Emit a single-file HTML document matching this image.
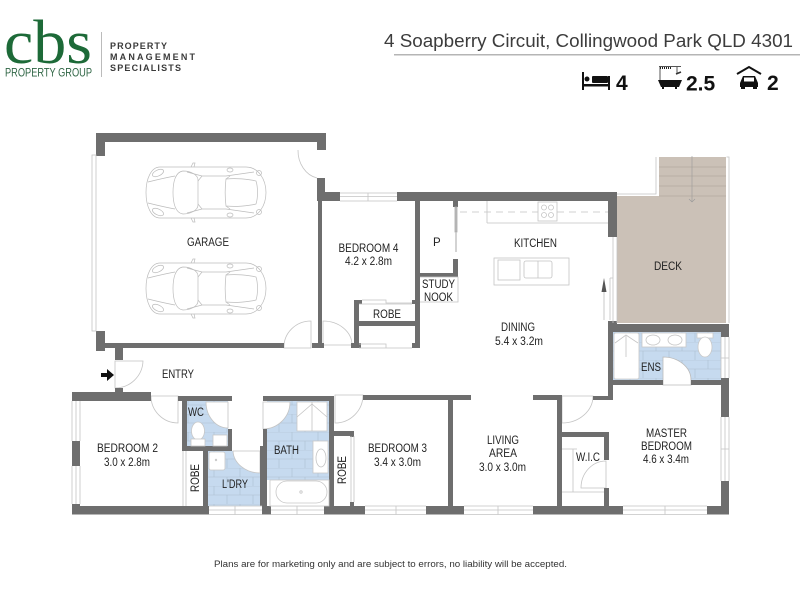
<!DOCTYPE html>
<html><head><meta charset="utf-8"><style>
html,body{margin:0;padding:0;background:#fff}
svg{display:block;filter:blur(.3px)}
text{font-family:"Liberation Sans",sans-serif;fill:#222;font-size:11.5px}
.w{fill:#6e6e6e}
.t{fill:none;stroke:#c4c4c4;stroke-width:.8}
.d{fill:#fff;stroke:#c4c4c4;stroke-width:.8}
.c{fill:none;stroke:#bcbcbc;stroke-width:.7}
.f{fill:#fff;stroke:#c8c8c8;stroke-width:.8}
</style></head><body>
<svg width="800" height="600" viewBox="0 0 800 600" xmlns="http://www.w3.org/2000/svg">
<defs>
<pattern id="tile" width="26" height="18" patternUnits="userSpaceOnUse">
<rect width="26" height="18" fill="#c6daef"/>
<path d="M0 0H26M0 9H26M6 0V9M19 9V18" stroke="#aebfd0" stroke-width=".6" fill="none"/>
</pattern>
<g id="car">
<path class="c" d="M14 0H100C112 0 120 12 120 25.500C120 39 112 51 100 51H14C5 51 0 39 0 25.500C0 12 5 0 14 0Z"/>
<path class="c" d="M37 4C29 5 27 16 27 25.500C27 35 29 46 37 47C45 47 52 43 52 38V13C52 8 45 4 37 4Z"/>
<path class="c" d="M80 12C90 11 102 12 110 14C112 20 112 31 110 37C102 39 90 40 80 39C79 31 79 20 80 12Z"/>
<path class="c" d="M41 5L56 9H80L108 5M41 46L56 42H80L108 46M56 9L52 14M56 42L52 37M80 12L84 9M80 39L84 42M2 15C10 13 18 11 29 9M2 36C10 38 18 40 29 42"/>
<ellipse class="c" cx="12" cy="6" rx="6" ry="3" transform="rotate(-25 12 6)"/>
<ellipse class="c" cx="12" cy="45" rx="6" ry="3" transform="rotate(25 12 45)"/>
<path class="c" d="M45 0L47 -4L49 -4L48 0M45 51L47 55L49 55L48 51"/>
<circle class="c" cx="113" cy="6" r="2.500"/><circle class="c" cx="113" cy="45" r="2.500"/>
<ellipse class="c" cx="84" cy="3" rx="3" ry="2"/><ellipse class="c" cx="84" cy="48" rx="3" ry="2"/>
</g>
</defs>

<!-- Logo -->
<text x="4" y="63" textLength="88" lengthAdjust="spacingAndGlyphs" style="font-family:'Liberation Serif',serif;font-size:62px;fill:#1d6a38">cbs</text>
<text x="5" y="76.500" textLength="87" lengthAdjust="spacingAndGlyphs" style="font-size:11.500px;fill:#2e6544">PROPERTY GROUP</text>
<rect x="101" y="32" width="1" height="45" fill="#bbb"/>
<text x="110" y="49" textLength="57" style="font-size:9px;font-weight:bold;fill:#3a3a3a">PROPERTY</text>
<text x="110" y="60" textLength="85" style="font-size:9px;font-weight:bold;fill:#3a3a3a">MANAGEMENT</text>
<text x="110" y="71" textLength="71" style="font-size:9px;font-weight:bold;fill:#3a3a3a">SPECIALISTS</text>

<!-- Header -->
<text x="384" y="47" textLength="409" lengthAdjust="spacingAndGlyphs" style="font-size:18.500px;fill:#3c3c3c">4 Soapberry Circuit, Collingwood Park QLD 4301</text>
<rect x="394" y="54" width="406" height="1.500" fill="#b5b5b5"/>

<!-- Icons -->
<g fill="#111">
<rect x="582" y="72" width="2" height="18"/><rect x="608" y="76" width="2" height="14"/>
<rect x="582" y="84" width="28" height="2.500"/><circle cx="587" cy="79" r="2.500"/><rect x="592" y="76" width="16" height="7" rx="1"/>
</g>
<text x="616" y="90" style="font-size:21px;font-weight:bold;fill:#111">4</text>
<g>
<path d="M659 66.500H681M660 67V80M677 67V73" stroke="#555" stroke-width="1" fill="none"/>
<path d="M660 68H672" stroke="#222" stroke-width="2" stroke-dasharray="1 1"/>
<path d="M676 74L681 72" stroke="#333" stroke-width="1.500"/>
<path d="M658 80H682L679 87H661Z" fill="#111"/><rect x="662" y="87" width="2" height="2" fill="#111"/><rect x="675" y="87" width="2" height="2" fill="#111"/>
</g>
<text x="686" y="90.500" style="font-size:21px;font-weight:bold;fill:#111">2.5</text>
<path d="M737 74L749 67L761 74" fill="none" stroke="#111" stroke-width="2"/>
<path d="M740 83L743 76H755L758 83V87H740Z" fill="#111"/><rect x="741" y="86" width="4" height="3" fill="#111"/><rect x="753" y="86" width="4" height="3" fill="#111"/>
<rect x="744" y="77.500" width="10" height="4" fill="#fff"/>
<text x="767" y="90" style="font-size:21px;font-weight:bold;fill:#111">2</text>

<!-- Deck + stairs -->
<rect x="617" y="196" width="109" height="127" fill="#cbc1b7"/>
<rect x="659" y="157" width="67" height="39" fill="#cbc1b7"/>
<path d="M659 167H726M659 176H726M659 186H726M659 196H726" stroke="#b5ab9f" stroke-width=".7"/>
<path d="M692 156V202M689 199L692 202L695 199" stroke="#999" stroke-width=".6" fill="none"/>
<path class="t" d="M656 157V194H617M726.500 157H729V323"/>

<!-- Wet areas -->
<rect x="187" y="401" width="41" height="45" fill="url(#tile)"/>
<rect x="208" y="451" width="54" height="55" fill="url(#tile)"/>
<rect x="267" y="401" width="62" height="79" fill="url(#tile)"/>
<rect x="613" y="332" width="108" height="48" fill="url(#tile)"/>

<!-- Door swings -->
<path class="d" d="M143 361A28 28 0 0 1 115 388V361Z"/>
<path class="d" d="M151 396A27 27 0 0 0 178 423V396Z"/>
<path class="d" d="M206 402A22 26 0 0 0 228 428V402Z"/>
<path class="d" d="M233 451A27 23 0 0 0 260 473V451H233Z"/>
<path class="d" d="M263 429A27 27 0 0 0 290 402H263Z"/>
<path class="d" d="M335 423A28 28 0 0 0 363 395H335Z"/>
<path class="d" d="M562 423A31 27 0 0 0 593 396H562Z"/>
<path class="d" d="M663 357A28 23 0 0 1 691 380V385H663Z" style="stroke:#bbb"/>
<path class="d" d="M581 488A25 27 0 0 1 606 461V488Z"/>
<path class="d" d="M298 150A24 28 0 0 0 317 178" style="fill:none"/>
<path class="d" d="M284 348A27 26 0 0 1 311 321V348Z"/>
<path class="d" d="M323 321A29 24 0 0 1 352 345H323Z"/>

<!-- Walls -->
<g class="w">
<rect x="96" y="133" width="230" height="9"/>
<rect x="96" y="133" width="9" height="23"/>
<rect x="317" y="133" width="9" height="17"/>
<rect x="317" y="178" width="8" height="23"/>
<rect x="318" y="178" width="4" height="170"/>
<rect x="96" y="331" width="9" height="20"/>
<rect x="96" y="343" width="188" height="5"/>
<rect x="312" y="343" width="12" height="5"/>
<rect x="115" y="348" width="8" height="12"/>
<rect x="317" y="192" width="23" height="9"/>
<rect x="397" y="192" width="220" height="9"/>
<rect x="608" y="192" width="9" height="45"/>
<rect x="415" y="201" width="5" height="147"/>
<rect x="354" y="300" width="5" height="48"/>
<rect x="351" y="343" width="10" height="5"/>
<rect x="412" y="343" width="8" height="5"/>
<rect x="354" y="321" width="66" height="5"/>
<rect x="354" y="300" width="8" height="4"/>
<rect x="412" y="300" width="4" height="4"/>
<rect x="453" y="201" width="5" height="6"/>
<rect x="453" y="259" width="5" height="18"/>
<rect x="415" y="273" width="43" height="4"/>
<rect x="608" y="321" width="9" height="6"/>
<rect x="608" y="324" width="121" height="8"/>
<rect x="608" y="324" width="5" height="76"/>
<rect x="721" y="324" width="8" height="13"/>
<rect x="613" y="380" width="50" height="5"/>
<rect x="691" y="380" width="30" height="5"/>
<rect x="721" y="378" width="8" height="39"/>
<rect x="721" y="481" width="8" height="33"/>
<rect x="72" y="392" width="79" height="9"/>
<rect x="115" y="388" width="8" height="4"/>
<rect x="72" y="441" width="8" height="25"/>
<rect x="72" y="504" width="8" height="10"/>
<rect x="178" y="396" width="54" height="5"/>
<rect x="182" y="396" width="5" height="55"/>
<rect x="182" y="446" width="50" height="5"/>
<rect x="228" y="429" width="4" height="22"/>
<rect x="203" y="446" width="5" height="60"/>
<rect x="260" y="446" width="3" height="60"/>
<rect x="263" y="396" width="71" height="5"/>
<rect x="263" y="429" width="4" height="80"/>
<rect x="329" y="396" width="5" height="110"/>
<rect x="334" y="431" width="20" height="5"/>
<rect x="350" y="431" width="4" height="6"/>
<rect x="350" y="502" width="4" height="5"/>
<rect x="363" y="395" width="108" height="5"/>
<rect x="448" y="400" width="5" height="106"/>
<rect x="533" y="395" width="29" height="5"/>
<rect x="557" y="395" width="5" height="111"/>
<rect x="593" y="396" width="20" height="4"/>
<rect x="562" y="432" width="47" height="5"/>
<rect x="604" y="432" width="5" height="28"/>
<rect x="604" y="488" width="5" height="18"/>
<rect x="72" y="506" width="137" height="8.500"/>
<rect x="262" y="506" width="9" height="8.500"/>
<rect x="324" y="506" width="41" height="8.500"/>
<rect x="426" y="506" width="38" height="8.500"/>
<rect x="533" y="506" width="90" height="8.500"/>
<rect x="707" y="506" width="22" height="8.500"/>
</g>

<!-- Windows & thin lines -->
<g class="t">
<rect x="92" y="155" width="4" height="176"/>
<path d="M340 193H397M340 196.500H397M340 201H397M368 193V201"/>
<path d="M362 300H386V303H412M359 304H412M359 344H386V348H412M359 348H412M386 344V348"/>
<rect x="455" y="207" width="2" height="25" style="fill:#bbb;stroke:#aaa"/>
<path d="M456 232V252" stroke-width="1.500"/>
<path d="M420 277H458V302H420"/>
<path d="M487 223H608M487 201V223"/>
<path d="M460 212H538M557 212H608" stroke-dasharray="7 5"/>
<rect x="538" y="202" width="19" height="19" fill="#fff"/>
<circle cx="544" cy="207.500" r="2.500"/><circle cx="551" cy="207.500" r="2.500"/><circle cx="544" cy="215" r="2.500"/><circle cx="551" cy="215" r="2.500"/>
<rect x="494" y="258" width="75" height="27"/>
<rect x="498" y="260" width="22" height="20"/>
<rect x="524" y="261" width="28" height="17" rx="2"/>
<path d="M538 261V278"/>
<path d="M613 237V323M617 237V323M610 278H613M610 278V320"/>
<path d="M72 401V441M76 401V441M80 401V441M72 466V504M76 466V504M80 466V504"/>
<path d="M186 451V506M183 451V506"/>
<path d="M209 506H262M209 510H262M209 514.500H262M235 506V514.500M271 506H324M271 510H324M271 514.500H324M297 506V514.500"/>
<path d="M351 436V502M354 436V502"/>
<path d="M365 506H426M365 510H426M365 514.500H426M396 506V514.500M464 506H533M464 510H533M464 514.500H533M498 506V514.500"/>
<path d="M623 506H707M623 510H707M623 514.500H707M665 506V514.500"/>
<path d="M721 417V481M725 417V481M729 417V481M721 449H729"/>
<path d="M721 337V378M725 337V378M729 337V378M721 358H729"/>
<path d="M562 449H577M573 449V492M562 492H604"/>
</g>
<path d="M604 320V292" stroke="#bbb" stroke-width=".8"/>
<path d="M601.500 292L604 278L606.500 292Z" fill="#555"/>

<!-- Fixtures -->
<rect class="f" x="297" y="402" width="30" height="29"/>
<path class="t" d="M312 402V431M297 417L312 404L327 417"/>
<rect class="f" x="313" y="441" width="15" height="32"/>
<ellipse class="t" cx="321" cy="458" rx="5" ry="9"/>
<rect class="f" x="270" y="480" width="59" height="26"/>
<rect class="f" x="276" y="481" width="51" height="22" rx="11"/>
<circle class="t" cx="301" cy="492" r="1.200"/>
<rect class="f" x="209" y="452" width="16" height="18" rx="2"/>
<circle class="t" cx="216" cy="460" r=".8"/>
<rect class="f" x="213" y="435" width="14" height="11"/>
<ellipse class="f" cx="198" cy="431" rx="6.500" ry="9"/>
<rect class="f" x="191" y="439" width="14" height="7"/>
<rect x="614" y="333" width="25" height="46" rx="2" class="f"/>
<path class="t" d="M626 336V357M615 343L626 335L638 343"/>
<rect class="f" x="642" y="333" width="44" height="14"/>
<ellipse class="t" cx="653" cy="340" rx="7" ry="5"/><ellipse class="t" cx="675" cy="340" rx="7" ry="5"/>
<rect class="f" x="697" y="333" width="16" height="5"/>
<ellipse class="f" cx="705" cy="347" rx="7" ry="10"/>

<!-- Cars -->
<use href="#car" x="146" y="167"/>
<use href="#car" x="146" y="263"/>

<!-- Entry arrow -->
<path d="M101 373H107V369L114 375L107 381V377H101Z" fill="#111"/>

<!-- Labels -->
<text x="187" y="246" textLength="42" lengthAdjust="spacingAndGlyphs">GARAGE</text>
<text x="338.500" y="252" textLength="60" lengthAdjust="spacingAndGlyphs">BEDROOM 4</text>
<text x="345" y="265" textLength="47" lengthAdjust="spacingAndGlyphs">4.2 x 2.8m</text>
<text x="433" y="246">P</text>
<text x="514" y="247" textLength="43" lengthAdjust="spacingAndGlyphs">KITCHEN</text>
<text x="422" y="288" textLength="33" lengthAdjust="spacingAndGlyphs">STUDY</text>
<text x="424" y="301" textLength="29" lengthAdjust="spacingAndGlyphs">NOOK</text>
<text x="373" y="318" textLength="28" lengthAdjust="spacingAndGlyphs">ROBE</text>
<text x="501" y="331" textLength="34" lengthAdjust="spacingAndGlyphs">DINING</text>
<text x="495" y="345" textLength="48" lengthAdjust="spacingAndGlyphs">5.4 x 3.2m</text>
<text x="654" y="270" textLength="28" lengthAdjust="spacingAndGlyphs">DECK</text>
<text x="641" y="371" textLength="20" lengthAdjust="spacingAndGlyphs">ENS</text>
<text x="162" y="378" textLength="32" lengthAdjust="spacingAndGlyphs">ENTRY</text>
<text x="97" y="452" textLength="61" lengthAdjust="spacingAndGlyphs">BEDROOM 2</text>
<text x="104" y="466" textLength="46" lengthAdjust="spacingAndGlyphs">3.0 x 2.8m</text>
<text x="188" y="416" textLength="16" lengthAdjust="spacingAndGlyphs">WC</text>
<text x="274" y="454" textLength="25" lengthAdjust="spacingAndGlyphs">BATH</text>
<text x="222" y="488" textLength="26" lengthAdjust="spacingAndGlyphs">L'DRY</text>
<text transform="translate(199 492) rotate(-90)" textLength="28" lengthAdjust="spacingAndGlyphs">ROBE</text>
<text transform="translate(346 484) rotate(-90)" textLength="28" lengthAdjust="spacingAndGlyphs">ROBE</text>
<text x="368" y="452" textLength="59" lengthAdjust="spacingAndGlyphs">BEDROOM 3</text>
<text x="374" y="466" textLength="47" lengthAdjust="spacingAndGlyphs">3.4 x 3.0m</text>
<text x="487" y="444" textLength="32" lengthAdjust="spacingAndGlyphs">LIVING</text>
<text x="489" y="457" textLength="28" lengthAdjust="spacingAndGlyphs">AREA</text>
<text x="479" y="471" textLength="47" lengthAdjust="spacingAndGlyphs">3.0 x 3.0m</text>
<text x="576" y="461" textLength="24" lengthAdjust="spacingAndGlyphs">W.I.C</text>
<text x="646" y="437" textLength="41" lengthAdjust="spacingAndGlyphs">MASTER</text>
<text x="641" y="450" textLength="51" lengthAdjust="spacingAndGlyphs">BEDROOM</text>
<text x="643" y="463" textLength="46" lengthAdjust="spacingAndGlyphs">4.6 x 3.4m</text>

<text x="214" y="567" textLength="353" lengthAdjust="spacingAndGlyphs" style="font-size:9px;fill:#333">Plans are for marketing only and are subject to errors, no liability will be accepted.</text>
</svg>
</body></html>
